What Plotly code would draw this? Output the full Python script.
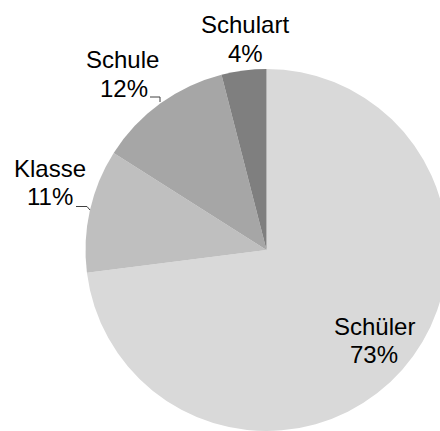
import plotly.graph_objects as go

labels = ["Schüler", "Klasse", "Schule", "Schulart"]
values = [73, 11, 12, 4]
colors = ["#d9d9d9", "#bfbfbf", "#a6a6a6", "#7f7f7f"]

W, H = 532, 500
CX, CY, R = 266.5, 250, 181

fig = go.Figure(go.Pie(
    labels=labels, values=values, sort=False, direction="clockwise", rotation=0,
    marker=dict(colors=colors, line=dict(width=0)),
    textinfo="none", hoverinfo="label+percent", showlegend=False,
    domain=dict(x=[(CX - R) / W, (CX + R) / W], y=[(H - CY - R) / H, (H - CY + R) / H]),
))

total = sum(values)
# label centre positions (pixels from top-left) for name line; percent line is below
label_pos = {
    "Schüler": (374, 326.5, 374, 354.5),
    "Klasse": (49.7, 168.5, 50, 196.5),
    "Schule": (122.5, 59.5, 123.5, 88.5),
    "Schulart": (245, 24.5, 245, 53.5),
}
font = dict(family="Liberation Sans, Arial, sans-serif", size=24, color="#000000")
anns = []
for lab, val in zip(labels, values):
    x1, y1, x2, y2 = label_pos[lab]
    anns.append(dict(x=x1 / W, y=1 - y1 / H, xref="paper", yref="paper", text=lab,
                     showarrow=False, xanchor="center", yanchor="middle", font=font))
    anns.append(dict(x=x2 / W, y=1 - y2 / H, xref="paper", yref="paper",
                     text=f"{round(100 * val / total)}%",
                     showarrow=False, xanchor="center", yanchor="middle", font=font))

def px(x, y):
    return x / W, 1 - y / H

shapes = []
for pts in ([(150, 97), (160, 97), (160, 102)], [(76, 206.5), (87, 206.5), (90, 210)]):
    path = "M " + " L ".join(f"{px(x, y)[0]},{px(x, y)[1]}" for x, y in pts)
    shapes.append(dict(type="path", xref="paper", yref="paper", path=path,
                       line=dict(color="#404040", width=1)))

fig.update_layout(width=W, height=H, margin=dict(l=0, r=0, t=0, b=0),
                  paper_bgcolor="white", plot_bgcolor="white",
                  annotations=anns, shapes=shapes)

fig.write_html("out.html", post_script="document.body.style.margin='0';document.body.style.overflow='hidden';document.documentElement.style.overflow='hidden';")
